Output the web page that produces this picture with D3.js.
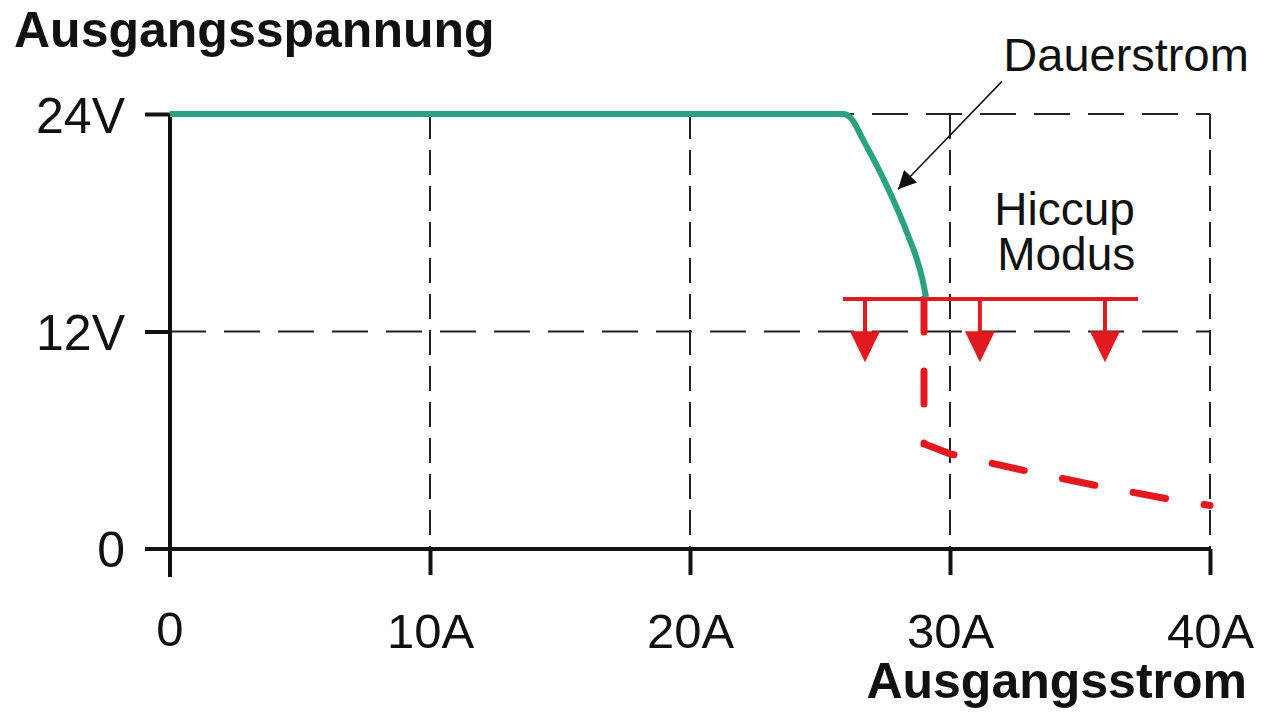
<!DOCTYPE html>
<html>
<head>
<meta charset="utf-8">
<script src="https://cdn.jsdelivr.net/npm/d3@7"></script>
<style>
  html, body { margin: 0; padding: 0; background: #fff; }
  svg { display: block; }
  text { font-family: "Liberation Sans", Arial, Helvetica, sans-serif; fill: #111; }
</style>
</head>
<body>
<svg id="chart" width="1280" height="719"></svg>
<script>
// ---- data ----
const xTicks = [0, 10, 20, 30, 40];
const xTickLabels = ["0", "10A", "20A", "30A", "40A"];
const yTicks = [0, 12, 24];
const yTickLabels = ["0", "12V", "24V"];
const xTitle = "Ausgangsstrom";
const yTitle = "Ausgangsspannung";

// continuous-current curve (A, V)
const dauerstromCurve = [
  [0, 24], [25.9, 24], [26.2, 23.75], [26.65, 22.6], [27.58, 20.0],
  [28.35, 17.43], [28.92, 15.0], [29.08, 13.9]
];
// hiccup mode dashed path (A, V)
const hiccupPath = [
  [29.0, 13.8], [29.0, 5.8], [30.0, 5.25], [33.1, 4.25], [35.7, 3.48], [38.4, 2.76], [40.0, 2.4]
];
const hiccupLevel = 13.8;
const hiccupBar = [25.88, 37.23];
const hiccupArrowX = [26.73, 31.15, 35.96];
const hiccupArrowTip = 10.3;
const dauerLabel = { text: "Dauerstrom", x: 32.05, y: 26.4, size: 47 };
const hiccupLabel = { lines: ["Hiccup", "Modus"], x: 31.7, y: 17.85, size: 46 };
const pointer = { from: [32.0, 25.8], to: [28.0, 19.85] };

// ---- chart ----
const svg = d3.select("#chart");
const x = d3.scaleLinear().domain([0, 40]).range([170, 1210]);
const y = d3.scaleLinear().domain([0, 24]).range([549, 114]);

const green = "#2ba27f";
const red = "#e3191f";

// grid
const grid = svg.append("g");
grid.selectAll(".vg").data(xTicks.slice(1)).join("line")
  .attr("x1", d => x(d)).attr("x2", d => x(d))
  .attr("y1", y(24)).attr("y2", y(0))
  .attr("stroke", "#222").attr("stroke-width", 2)
  .attr("stroke-dasharray", "25,11");
grid.selectAll(".hg").data(yTicks.slice(1)).join("line")
  .attr("x1", x(0)).attr("x2", x(40))
  .attr("y1", d => y(d)).attr("y2", d => y(d))
  .attr("stroke", "#222").attr("stroke-width", 2)
  .attr("stroke-dasharray", "36,18");

// axes
const xAxis = d3.axisBottom(x).tickValues(xTicks.slice(1))
  .tickFormat(d => xTickLabels[xTicks.indexOf(d)])
  .tickSize(26).tickPadding(38).tickSizeOuter(0);
const gx = svg.append("g").attr("transform", `translate(0,${y(0)})`).call(xAxis);
gx.select(".domain").remove();
gx.selectAll(".tick line").attr("stroke", "#111").attr("stroke-width", 4);
gx.selectAll(".tick text").attr("font-size", 49).attr("fill", "#111");

const yAxis = d3.axisLeft(y).tickValues(yTicks.slice(1))
  .tickFormat(d => yTickLabels[yTicks.indexOf(d)])
  .tickSize(25).tickPadding(20).tickSizeOuter(0);
const gy = svg.append("g").attr("transform", `translate(${x(0)},0)`).call(yAxis);
gy.select(".domain").remove();
gy.selectAll(".tick line").attr("stroke", "#111").attr("stroke-width", 4);
gy.selectAll(".tick text").attr("font-size", 50).attr("fill", "#111").attr("dy", "0.36em");

// x tick "0" and y tick "0" labels
svg.append("text").attr("x", x(0)).attr("y", y(0) + 97)
  .attr("text-anchor", "middle").attr("font-size", 49).text(xTickLabels[0]);
svg.append("text").attr("x", x(0) - 45).attr("y", y(0)).attr("dy", "0.36em")
  .attr("text-anchor", "end").attr("font-size", 50).text(yTickLabels[0]);

// axis lines (crossing)
svg.append("line").attr("x1", x(0) - 25).attr("x2", x(40))
  .attr("y1", y(0)).attr("y2", y(0)).attr("stroke", "#111").attr("stroke-width", 4);
svg.append("line").attr("x1", x(0)).attr("x2", x(0))
  .attr("y1", y(24)).attr("y2", y(0) + 28).attr("stroke", "#111").attr("stroke-width", 4);

// titles
svg.append("text").attr("x", 14).attr("y", 47).attr("font-size", 50)
  .attr("font-weight", "bold").text(yTitle);
svg.append("text").attr("x", 1247).attr("y", 698).attr("font-size", 50)
  .attr("font-weight", "bold").attr("text-anchor", "end").text(xTitle);

// hiccup dashed path
const line = d3.line().x(d => x(d[0])).y(d => y(d[1]));
svg.append("path").datum(hiccupPath).attr("d", line)
  .attr("fill", "none").attr("stroke", red).attr("stroke-width", 7)
  .attr("stroke-linecap", "round").attr("stroke-dasharray", "33,39");

// hiccup bar + arrows
svg.append("line").attr("x1", x(hiccupBar[0])).attr("x2", x(hiccupBar[1]))
  .attr("y1", y(hiccupLevel)).attr("y2", y(hiccupLevel))
  .attr("stroke", red).attr("stroke-width", 4);
const arrows = svg.append("g");
arrows.selectAll("line").data(hiccupArrowX).join("line")
  .attr("x1", d => x(d)).attr("x2", d => x(d))
  .attr("y1", y(hiccupLevel)).attr("y2", y(hiccupArrowTip) - 30)
  .attr("stroke", red).attr("stroke-width", 4);
arrows.selectAll("path").data(hiccupArrowX).join("path")
  .attr("d", d => {
    const cx = x(d), ty = y(hiccupArrowTip);
    return `M${cx - 15},${ty - 31}L${cx + 15},${ty - 31}L${cx},${ty}Z`;
  })
  .attr("fill", red);

// green curve
svg.append("path").datum(dauerstromCurve)
  .attr("d", d3.line().x(d => x(d[0])).y(d => y(d[1])).curve(d3.curveMonotoneX))
  .attr("fill", "none").attr("stroke", green).attr("stroke-width", 6)
  .attr("stroke-linejoin", "round");

// pointer arrow
svg.append("defs").append("marker").attr("id", "ah")
  .attr("viewBox", "0 0 10 10").attr("refX", 10).attr("refY", 5)
  .attr("markerWidth", 24).attr("markerHeight", 18).attr("markerUnits", "userSpaceOnUse")
  .attr("orient", "auto")
  .append("path").attr("d", "M0,0L10,5L0,10Z").attr("fill", "#111");
svg.append("line")
  .attr("x1", x(pointer.from[0])).attr("y1", y(pointer.from[1]))
  .attr("x2", x(pointer.to[0])).attr("y2", y(pointer.to[1]))
  .attr("stroke", "#111").attr("stroke-width", 1.5).attr("marker-end", "url(#ah)");

// annotations
svg.append("text").attr("x", x(dauerLabel.x)).attr("y", y(dauerLabel.y))
  .attr("font-size", dauerLabel.size).text(dauerLabel.text);
const ht = svg.append("text").attr("x", x(hiccupLabel.x)).attr("y", y(hiccupLabel.y))
  .attr("font-size", hiccupLabel.size);
ht.selectAll("tspan").data(hiccupLabel.lines).join("tspan")
  .attr("x", (d, i) => x(hiccupLabel.x) + i * 3)
  .attr("dy", (d, i) => i === 0 ? 0 : 45)
  .text(d => d);
</script>
</body>
</html>
